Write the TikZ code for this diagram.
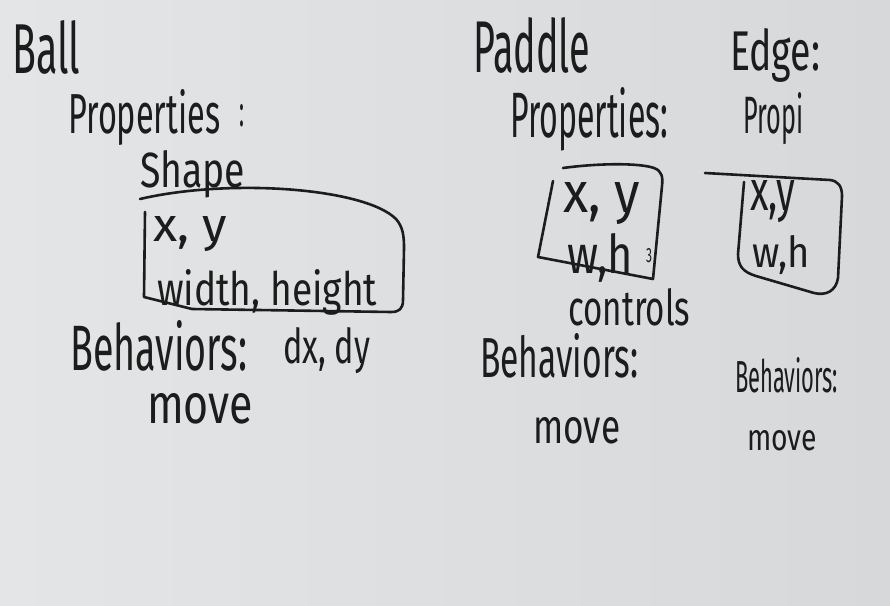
\documentclass[tikz,border=0pt]{standalone}
\usepackage{fontspec}
\setmainfont{Fira Sans}
\usepackage{graphicx}
\definecolor{ink}{HTML}{1C1C1C}
\definecolor{boardL}{HTML}{E3E5E6}
\definecolor{boardM}{HTML}{E7E9EB}
\definecolor{boardR}{HTML}{D6D8DA}
% text scaled to a given width and height (in pt) above its baseline
\newcommand\hw[3]{\resizebox{#1pt}{#2pt}{#3}}
\begin{document}
\begin{tikzpicture}[x=1pt,y=-1pt,
  word/.style={inner sep=0pt,anchor=base west,text=ink},
  pen/.style={draw=ink,line width=2.6pt,line cap=round,line join=round}]
% whiteboard
\shade[left color=boardL,middle color=boardM,right color=boardR]
  (0,0) rectangle (890,605);
\useasboundingbox (0,0) rectangle (890,605);

% ---- Ball ----
\node[word] (ball) at (12,73) {\hw{68}{53}{Ball}};
\node[word] (bprop) at (68,133) {\hw{152}{44}{Properties}};
\node[word] (bcolon) at (239,126) {\hw{5}{22}{:}};
\node[word] (bshape) at (140,187) {\hw{105}{37}{Shape}};
\node[word] (bxy) at (153,241) {\hw{74}{25}{x, y}};
\node[word] (bwh) at (157,305) {\hw{220}{36}{width, height}};
\draw[pen] (140,199) .. controls (230,178) and (365,188) .. (396,219)
  .. controls (403,227) and (404,236) .. (404,248) -- (403,300)
  .. controls (403,309) and (399,312) .. (391,312) -- (192,309) -- (144,297) -- (145,212);
\node[word] (bbeh) at (70,370) {\hw{177}{50}{Behaviors:}};
\node[word] (bdxy) at (283,363) {\hw{87}{36}{dx, dy}};
\node[word] (bmove) at (147,423) {\hw{106}{30}{move}};

% ---- Paddle ----
\node[word] (paddle) at (473,72) {\hw{117}{55}{Paddle}};
\node[word] (pprop) at (510,137) {\hw{158}{50}{Properties:}};
\draw[pen] (563,168) .. controls (600,163) and (640,163) .. (654,168)
  .. controls (662,171) and (663,177) .. (662,186) -- (653,279) -- (538,257) -- (553,181);
\node[word] (pxy) at (563,212) {\hw{77}{30}{x, y}};
\node[word] (pwh) at (567,273) {\hw{66}{40}{w,h}};
\node[word] (pmark) at (646,262) {\hw{6}{14}{3}};
\node[word] (pctl) at (568,325) {\hw{122}{37}{controls}};
\node[word] (pbeh) at (480,377) {\hw{158}{44}{Behaviors:}};
\node[word] (pmove) at (533,443) {\hw{87}{26}{move}};

% ---- Edge ----
\node[word] (edge) at (730,70) {\hw{90}{42}{Edge:}};
\node[word] (eprop) at (743,133) {\hw{60}{41}{Propi}};
\draw[pen] (705,173) -- (830,180) .. controls (838,181) and (842,186) .. (842,196)
  -- (838,278) .. controls (836,291) and (826,296) .. (814,293) -- (756,276)
  .. controls (743,272) and (738,266) .. (738,254) -- (744,182);
\node[word] (exy) at (750,210) {\hw{45}{30}{x,y}};
\node[word] (ewh) at (752,267) {\hw{58}{32}{w,h}};
\node[word] (ebeh) at (735,392) {\hw{103}{35}{Behaviors:}};
\node[word] (emove) at (747,450) {\hw{70}{20}{move}};
\end{tikzpicture}
\end{document}
